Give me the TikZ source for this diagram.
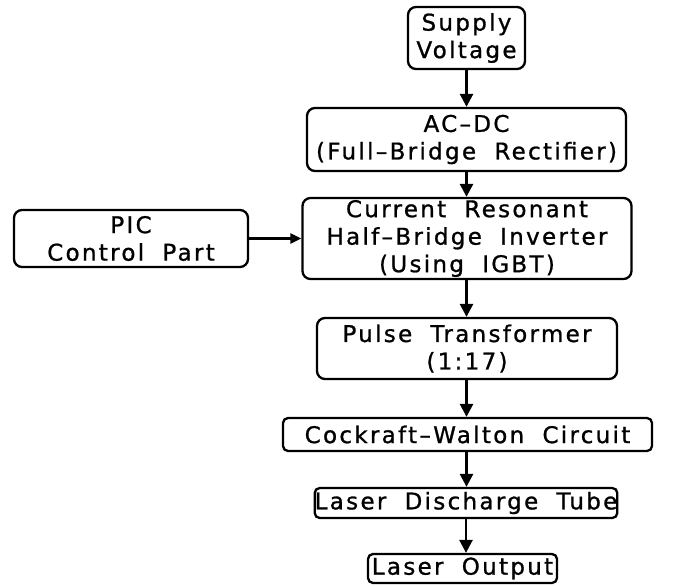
\documentclass[tikz,border=0pt]{standalone}
\usepackage{fontspec}
\setmainfont[LetterSpace=10,FakeBold=1,WordSpace=1.9]{DejaVu Sans}
\usetikzlibrary{arrows.meta}
\tikzset{
  blk/.style={draw, line width=2.3pt, rounded corners=8pt, align=center, inner sep=0pt,
    font=\fontsize{23}{27.5}\selectfont},
  flow/.style={line width=2.6pt, -{Triangle[length=13pt,width=13pt]}},
  sflow/.style={line width=2.2pt, -{Triangle[length=11pt,width=10pt]}}
}
\begin{document}
\begin{tikzpicture}[x=1pt,y=-1pt]
\useasboundingbox (0,0) rectangle (700,586);
\node[blk, minimum width=117pt, minimum height=62pt] (sv) at (466.5,38) {Supply\\Voltage};
\node[blk, minimum width=319pt, minimum height=63pt] (ac) at (466.5,139.5) {AC–DC\\(Full–Bridge Rectifier)};
\node[blk, minimum width=329pt, minimum height=81pt] (cr) at (467,238.5) {Current Resonant\\Half–Bridge Inverter\\(Using IGBT)};
\node[blk, minimum width=234pt, minimum height=57pt] (pic) at (131,238.5) {PIC\\Control Part};
\node[blk, minimum width=300pt, minimum height=61pt] (pt) at (467,348.5) {Pulse Transformer\\(1:17)};
\node[blk, rounded corners=5pt, minimum width=369pt, minimum height=33pt] (cw) at (467.5,434.5) {Cockraft–Walton Circuit};
\node[blk, rounded corners=5pt, minimum width=300pt, minimum height=30pt] (ld) at (466,503) {Laser Discharge Tube};
\node[blk, rounded corners=5pt, minimum width=189pt, minimum height=29pt] (lo) at (462.5,568.5) {Laser Output};
\draw[flow] (sv.south) -- (sv.south |- ac.north);
\draw[flow] (sv.south |- ac.south) -- (sv.south |- cr.north);
\draw[flow] (sv.south |- cr.south) -- (sv.south |- pt.north);
\draw[flow] (sv.south |- pt.south) -- (sv.south |- cw.north);
\draw[flow] (sv.south |- cw.south) -- (sv.south |- ld.north);
\draw[flow] (ld.south) -- (ld.south |- lo.north);
\draw[sflow] (pic.east) -- (pic.east -| cr.west);
\end{tikzpicture}
\end{document}
